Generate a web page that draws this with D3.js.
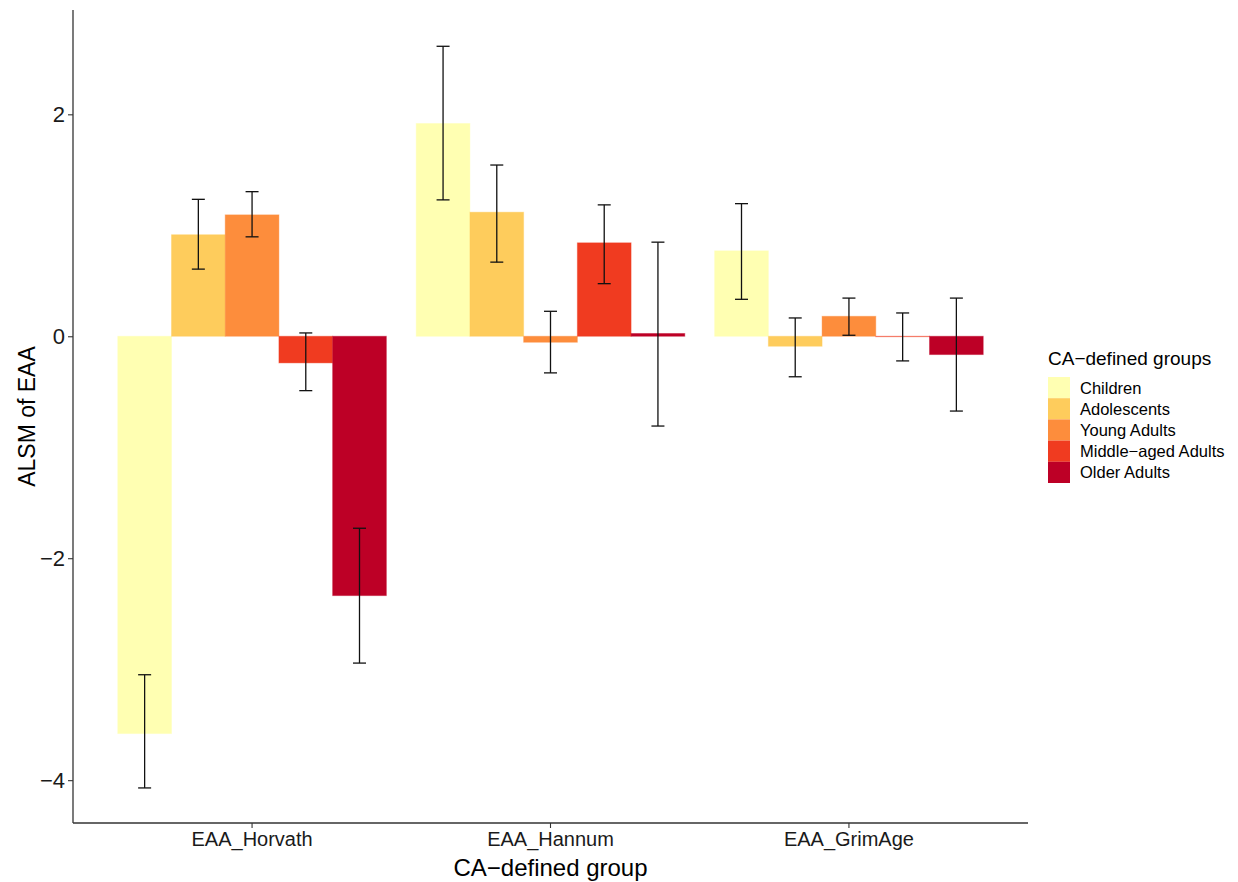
<!DOCTYPE html>
<html>
<head>
<meta charset="utf-8">
<script src="https://cdn.jsdelivr.net/npm/d3@7"></script>
<style>
  body { margin: 0; background: #fff; }
  svg { display: block; font-family: "Liberation Sans", Arial, sans-serif; }
</style>
</head>
<body>
<svg id="chart" width="1238" height="882"></svg>
<script>
"use strict";

// clocks on the x axis
var clocks = ["EAA_Horvath", "EAA_Hannum", "EAA_GrimAge"];
// age groups (fill)
var groups = ["Children", "Adolescents", "Young Adults", "Middle-aged Adults", "Older Adults"];
var groupLabels = ["Children", "Adolescents", "Young Adults", "Middle\u2212aged Adults", "Older Adults"];
var groupColors = ["#FFFFB2", "#FECC5C", "#FD8D3C", "#F03B20", "#BD0026"];

// ALSM values, one array per clock, in group order
var horvathMean = [-3.58, 0.915, 1.094, -0.24, -2.337];
var hannumMean = [1.917, 1.118, -0.054, 0.842, 0.025];
var grimAgeMean = [0.77, -0.09, 0.18, -0.004, -0.165];

// error bar bounds
var horvathLow = [-4.07, 0.605, 0.896, -0.49, -2.945];
var horvathHigh = [-3.05, 1.234, 1.303, 0.03, -1.73];
var hannumLow = [1.229, 0.668, -0.33, 0.474, -0.809];
var hannumHigh = [2.613, 1.543, 0.225, 1.184, 0.848];
var grimAgeLow = [0.333, -0.365, 0.009, -0.222, -0.674];
var grimAgeHigh = [1.195, 0.165, 0.344, 0.21, 0.344];

var yTicks = [-4, -2, 0, 2];

var means = [horvathMean, hannumMean, grimAgeMean],
    lows = [horvathLow, hannumLow, grimAgeLow],
    highs = [horvathHigh, hannumHigh, grimAgeHigh];

var rows = [];
clocks.forEach(function(c, i) {
  groups.forEach(function(g, j) {
    rows.push({ clock: c, group: g, mean: means[i][j], low: lows[i][j], high: highs[i][j] });
  });
});

var svg = d3.select("#chart");

var panel = { left: 73, right: 1028, top: 10, bottom: 823 };

// ggplot style discrete expansion: 0.6 units each side
var x = d3.scaleBand()
  .domain(clocks)
  .range([panel.left, panel.right])
  .paddingInner(0)
  .paddingOuter(0.1);

var inner = d3.scaleBand()
  .domain(groups)
  .range([0, x.bandwidth() * 0.9]);

var y = d3.scaleLinear()
  .domain([-4.386, 2.94])
  .range([panel.bottom, panel.top]);

var color = d3.scaleOrdinal().domain(groups).range(groupColors);

function barX(d) {
  return x(d.clock) + x.bandwidth() * 0.05 + inner(d.group);
}

// bars
svg.append("g").selectAll("rect").data(rows)
  .enter()
  .append("rect")
  .attr("x", barX)
  .attr("y", function(d) { return y(Math.max(0, d.mean)); })
  .attr("width", inner.bandwidth())
  .attr("height", function(d) { return Math.abs(y(d.mean) - y(0)); })
  .attr("fill", function(d) { return color(d.group); })
  .attr("stroke", function(d) { return color(d.group); })
  .attr("stroke-opacity", 0.4)
  .attr("stroke-width", 1);

// error bars
var cap = 6.5;
var eb = svg.append("g").selectAll("g").data(rows)
  .enter()
  .append("g")
  .attr("stroke", "#111")
  .attr("stroke-width", 1.3);

eb.append("line")
  .attr("x1", function(d) { return barX(d) + inner.bandwidth() / 2; })
  .attr("x2", function(d) { return barX(d) + inner.bandwidth() / 2; })
  .attr("y1", function(d) { return y(d.low); })
  .attr("y2", function(d) { return y(d.high); });

["low", "high"].forEach(function(k) {
  eb.append("line")
    .attr("x1", function(d) { return barX(d) + inner.bandwidth() / 2 - cap; })
    .attr("x2", function(d) { return barX(d) + inner.bandwidth() / 2 + cap; })
    .attr("y1", function(d) { return y(d[k]); })
    .attr("y2", function(d) { return y(d[k]); });
});

// axes
var yAxis = svg.append("g")
  .attr("transform", "translate(" + panel.left + ",0)")
  .call(d3.axisLeft(y).tickValues(yTicks).tickSize(5).tickPadding(3)
    .tickFormat(function(d) { return d < 0 ? "\u2212" + Math.abs(d) : d; }));

var xAxis = svg.append("g")
  .attr("transform", "translate(0," + panel.bottom + ")")
  .call(d3.axisBottom(x).tickSize(5).tickPadding(4));

[yAxis, xAxis].forEach(function(a) {
  a.select(".domain").attr("stroke", "#333").attr("stroke-width", 1.3);
  a.selectAll(".tick line").attr("stroke", "#333").attr("stroke-width", 1.1);
  a.selectAll(".tick text").attr("fill", "#1a1a1a").attr("font-family", "Liberation Sans, Arial, sans-serif");
});
yAxis.selectAll(".tick text").attr("font-size", 22);
xAxis.selectAll(".tick text").attr("font-size", 20);

// y domain line should run from panel top to bottom
yAxis.select(".domain").attr("d", "M0," + panel.top + "V" + panel.bottom);
xAxis.select(".domain").attr("d", "M" + panel.left + ",0H" + panel.right);

// axis titles
svg.append("text")
  .attr("x", (panel.left + panel.right) / 2)
  .attr("y", 876)
  .attr("text-anchor", "middle")
  .attr("font-size", 24)
  .attr("fill", "#000")
  .text("CA\u2212defined group");

svg.append("text")
  .attr("transform", "translate(35," + (panel.top + panel.bottom) / 2 + ") rotate(-90)")
  .attr("text-anchor", "middle")
  .attr("font-size", 23)
  .attr("fill", "#000")
  .text("ALSM of EAA");

// legend
var legend = svg.append("g").attr("transform", "translate(1048,0)");

legend.append("text")
  .attr("x", 0)
  .attr("y", 365)
  .attr("font-size", 19)
  .attr("fill", "#000")
  .text("CA\u2212defined groups");

var keyH = 21.2;
var items = legend.selectAll(".key").data(groups)
  .enter()
  .append("g")
  .attr("class", "key")
  .attr("transform", function(d, i) { return "translate(0," + (377 + i * keyH) + ")"; });

items.append("rect")
  .attr("width", 22)
  .attr("height", keyH)
  .attr("fill", function(d) { return color(d); });

items.append("text")
  .attr("x", 32)
  .attr("y", keyH / 2 + 6)
  .attr("font-size", 16.5)
  .attr("fill", "#000")
  .text(function(d, i) { return groupLabels[i]; });
</script>
</body>
</html>
